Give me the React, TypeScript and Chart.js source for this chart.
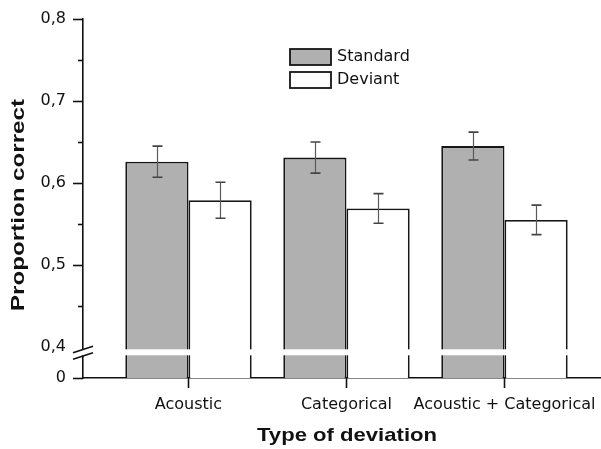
import React, { useEffect, useRef } from "react";
import { Chart, registerables } from "chart.js";

Chart.register(...registerables);

const categories = ["Acoustic", "Categorical", "Acoustic + Categorical"];
const seriesNames = ["Standard", "Deviant"];
const standardValues = [0.626, 0.631, 0.645];
const deviantValues = [0.579, 0.569, 0.555];
const standardErrors = [0.019, 0.019, 0.017];
const deviantErrors = [0.022, 0.018, 0.018];
const yTickValues = [0.4, 0.45, 0.5, 0.55, 0.6, 0.65, 0.7, 0.75, 0.8];
const yMajorTickValues = [0.4, 0.5, 0.6, 0.7, 0.8];
const yBottomLabel = "0";
const yTitle = "Proportion correct";
const xTitle = "Type of deviation";

const Y_MIN = 0.3622;
const Y_MAX = 0.8;
const X_MIN = 0.3323;
const X_MAX = 3.611;

const FILL_STD = "#b0b0b0";
const FILL_DEV = "#ffffff";
const EDGE = "#161616";
const TICK_FONT = '"DejaVu Sans", sans-serif';
const TITLE_FONT = '"Liberation Sans", Arial, sans-serif';

const near = (a: number, b: number) => Math.abs(a - b) < 1e-6;
const isMajor = (v: number) => yMajorTickValues.some((m) => near(m, v));

const zeroPad = (scale: any) => {
  scale.paddingTop = 0;
  scale.paddingBottom = 0;
  scale.paddingLeft = 0;
  scale.paddingRight = 0;
};

const decorPlugin = {
  id: "decor",
  afterDatasetsDraw(chart: any) {
    const ctx = chart.ctx;
    const y = chart.scales.y;
    const errs = [standardErrors, deviantErrors];
    const vals = [standardValues, deviantValues];
    ctx.save();
    chart.data.datasets.forEach((_: any, di: number) => {
      const meta = chart.getDatasetMeta(di);
      meta.data.forEach((el: any, i: number) => {
        const v = vals[di][i];
        const e = errs[di][i];
        const x = Math.round(el.x) + 0.5;
        const top = y.getPixelForValue(v + e);
        const bot = y.getPixelForValue(v - e);
        ctx.strokeStyle = "#5a5a5a";
        ctx.lineWidth = 1.2;
        ctx.beginPath();
        ctx.moveTo(x, top);
        ctx.lineTo(x, bot);
        ctx.stroke();
        ctx.strokeStyle = "#444";
        ctx.lineWidth = 1.6;
        ctx.beginPath();
        ctx.moveTo(x - 5, top);
        ctx.lineTo(x + 5, top);
        ctx.moveTo(x - 5, bot);
        ctx.lineTo(x + 5, bot);
        ctx.stroke();
      });
    });
    ctx.restore();
  },
  afterDraw(chart: any) {
    const ctx = chart.ctx;
    const xs = chart.scales.x;
    const ys = chart.scales.y;
    const area = chart.chartArea;
    const axisX = area.left;
    const axisY = area.bottom;
    const p4 = ys.getPixelForValue(0.4);
    ctx.save();

    // axis break gap
    ctx.fillStyle = "#ffffff";
    ctx.fillRect(axisX - 8, p4 + 2.3, chart.width - axisX + 8, 6);
    // break slashes
    ctx.strokeStyle = "#111";
    ctx.lineWidth = 1.6;
    const slope = -6.5 / 20;
    [p4 + 2.4, p4 + 9].forEach((cy) => {
      ctx.beginPath();
      ctx.moveTo(axisX - 10, cy - slope * 10);
      ctx.lineTo(axisX + 10, cy + slope * 10);
      ctx.stroke();
    });

    // y tick marks
    ctx.strokeStyle = "#111";
    ctx.lineWidth = 1.6;
    ys.ticks.forEach((t: any) => {
      if (near(t.value, 0.4)) return;
      const py = Math.round(ys.getPixelForValue(t.value)) + 0.5;
      const len = near(t.value, Y_MIN) || isMajor(t.value) ? 10 : 5;
      ctx.beginPath();
      ctx.moveTo(axisX - len, py);
      ctx.lineTo(axisX, py);
      ctx.stroke();
    });
    // x tick marks
    xs.ticks.forEach((t: any) => {
      const px = Math.round(xs.getPixelForValue(t.value)) + 0.5;
      ctx.beginPath();
      ctx.moveTo(px, axisY);
      ctx.lineTo(px, axisY + 10);
      ctx.stroke();
    });

    // legend
    const fills = [FILL_STD, FILL_DEV];
    ctx.font = `16px ${TICK_FONT}`;
    ctx.textBaseline = "middle";
    ctx.textAlign = "left";
    seriesNames.forEach((name, i) => {
      const by = 49 + i * 23;
      ctx.fillStyle = fills[i];
      ctx.fillRect(290, by, 41, 16);
      ctx.strokeStyle = EDGE;
      ctx.lineWidth = 1.8;
      ctx.strokeRect(290, by, 41, 16);
      ctx.fillStyle = "#111";
      ctx.fillText(name, 337, by + 8);
    });

    // axis titles (stretched to the reference widths)
    ctx.font = `bold 19px ${TITLE_FONT}`;
    ctx.fillStyle = "#111";
    ctx.textAlign = "center";
    ctx.textBaseline = "middle";
    const drawStretched = (text: string, cx: number, cy: number, rot: number, target: number) => {
      const w = ctx.measureText(text).width;
      ctx.save();
      ctx.translate(cx, cy);
      ctx.rotate(rot);
      ctx.scale(target / w, 1);
      ctx.fillText(text, 0, 0);
      ctx.restore();
    };
    drawStretched(xTitle, 347, 436, 0, 180);
    drawStretched(yTitle, 19, 205, -Math.PI / 2, 212);
    ctx.restore();
  },
};

export default function App() {
  const canvasRef = useRef<HTMLCanvasElement | null>(null);

  useEffect(() => {
    const canvas = canvasRef.current;
    if (!canvas) return;
    const chart = new Chart(canvas, {
      type: "bar",
      data: {
        datasets: [
          {
            label: seriesNames[0],
            data: categories.map((_, i) => ({ x: i + 1, y: standardValues[i] })),
            backgroundColor: FILL_STD,
            borderColor: EDGE,
            borderWidth: 1.8,
          },
          {
            label: seriesNames[1],
            data: categories.map((_, i) => ({ x: i + 1, y: deviantValues[i] })),
            backgroundColor: FILL_DEV,
            borderColor: EDGE,
            borderWidth: 1.8,
          },
        ],
      },
      options: {
        responsive: false,
        animation: false,
        events: [],
        devicePixelRatio: 1,
        layout: { padding: { top: 19, right: 0, left: 0, bottom: 0 } },
        datasets: { bar: { categoryPercentage: 0.8, barPercentage: 1.0 } },
        plugins: { legend: { display: false }, tooltip: { enabled: false }, title: { display: false } },
        scales: {
          x: {
            type: "linear",
            min: X_MIN,
            max: X_MAX,
            offset: false,
            bounds: "data",
            grid: { display: false, drawTicks: false },
            border: { display: true, color: "#111", width: 1.6 },
            afterBuildTicks: (scale: any) => {
              scale.ticks = categories.map((_, i) => ({ value: i + 1 }));
            },
            afterFit: (scale: any) => {
              scale.height = 71;
              zeroPad(scale);
            },
            ticks: {
              autoSkip: false,
              maxRotation: 0,
              minRotation: 0,
              padding: 17,
              color: "#111",
              font: { family: TICK_FONT, size: 16 },
              callback: (value: any) => {
                const idx = Math.round(Number(value)) - 1;
                return categories[idx] ?? "";
              },
            },
          },
          y: {
            type: "linear",
            min: Y_MIN,
            max: Y_MAX,
            bounds: "data",
            grid: { display: false, drawTicks: false },
            border: { display: true, color: "#111", width: 1.6 },
            afterBuildTicks: (scale: any) => {
              scale.ticks = [{ value: Y_MIN }, ...yTickValues.map((v) => ({ value: v }))];
            },
            afterFit: (scale: any) => {
              scale.width = 83;
              zeroPad(scale);
            },
            ticks: {
              autoSkip: false,
              padding: 17,
              color: "#111",
              font: { family: TICK_FONT, size: 16 },
              callback: (value: any) => {
                const v = Number(value);
                if (near(v, Y_MIN)) return yBottomLabel;
                if (isMajor(v)) return v.toFixed(1).replace(".", ",");
                return "";
              },
            },
          },
        },
      },
      plugins: [decorPlugin],
    });
    return () => chart.destroy();
  }, []);

  return (
    <div style={{ position: "absolute", left: 0, top: 0, width: 601, height: 449, background: "#fff" }}>
      <canvas ref={canvasRef} width={601} height={449} style={{ display: "block" }} />
    </div>
  );
}
